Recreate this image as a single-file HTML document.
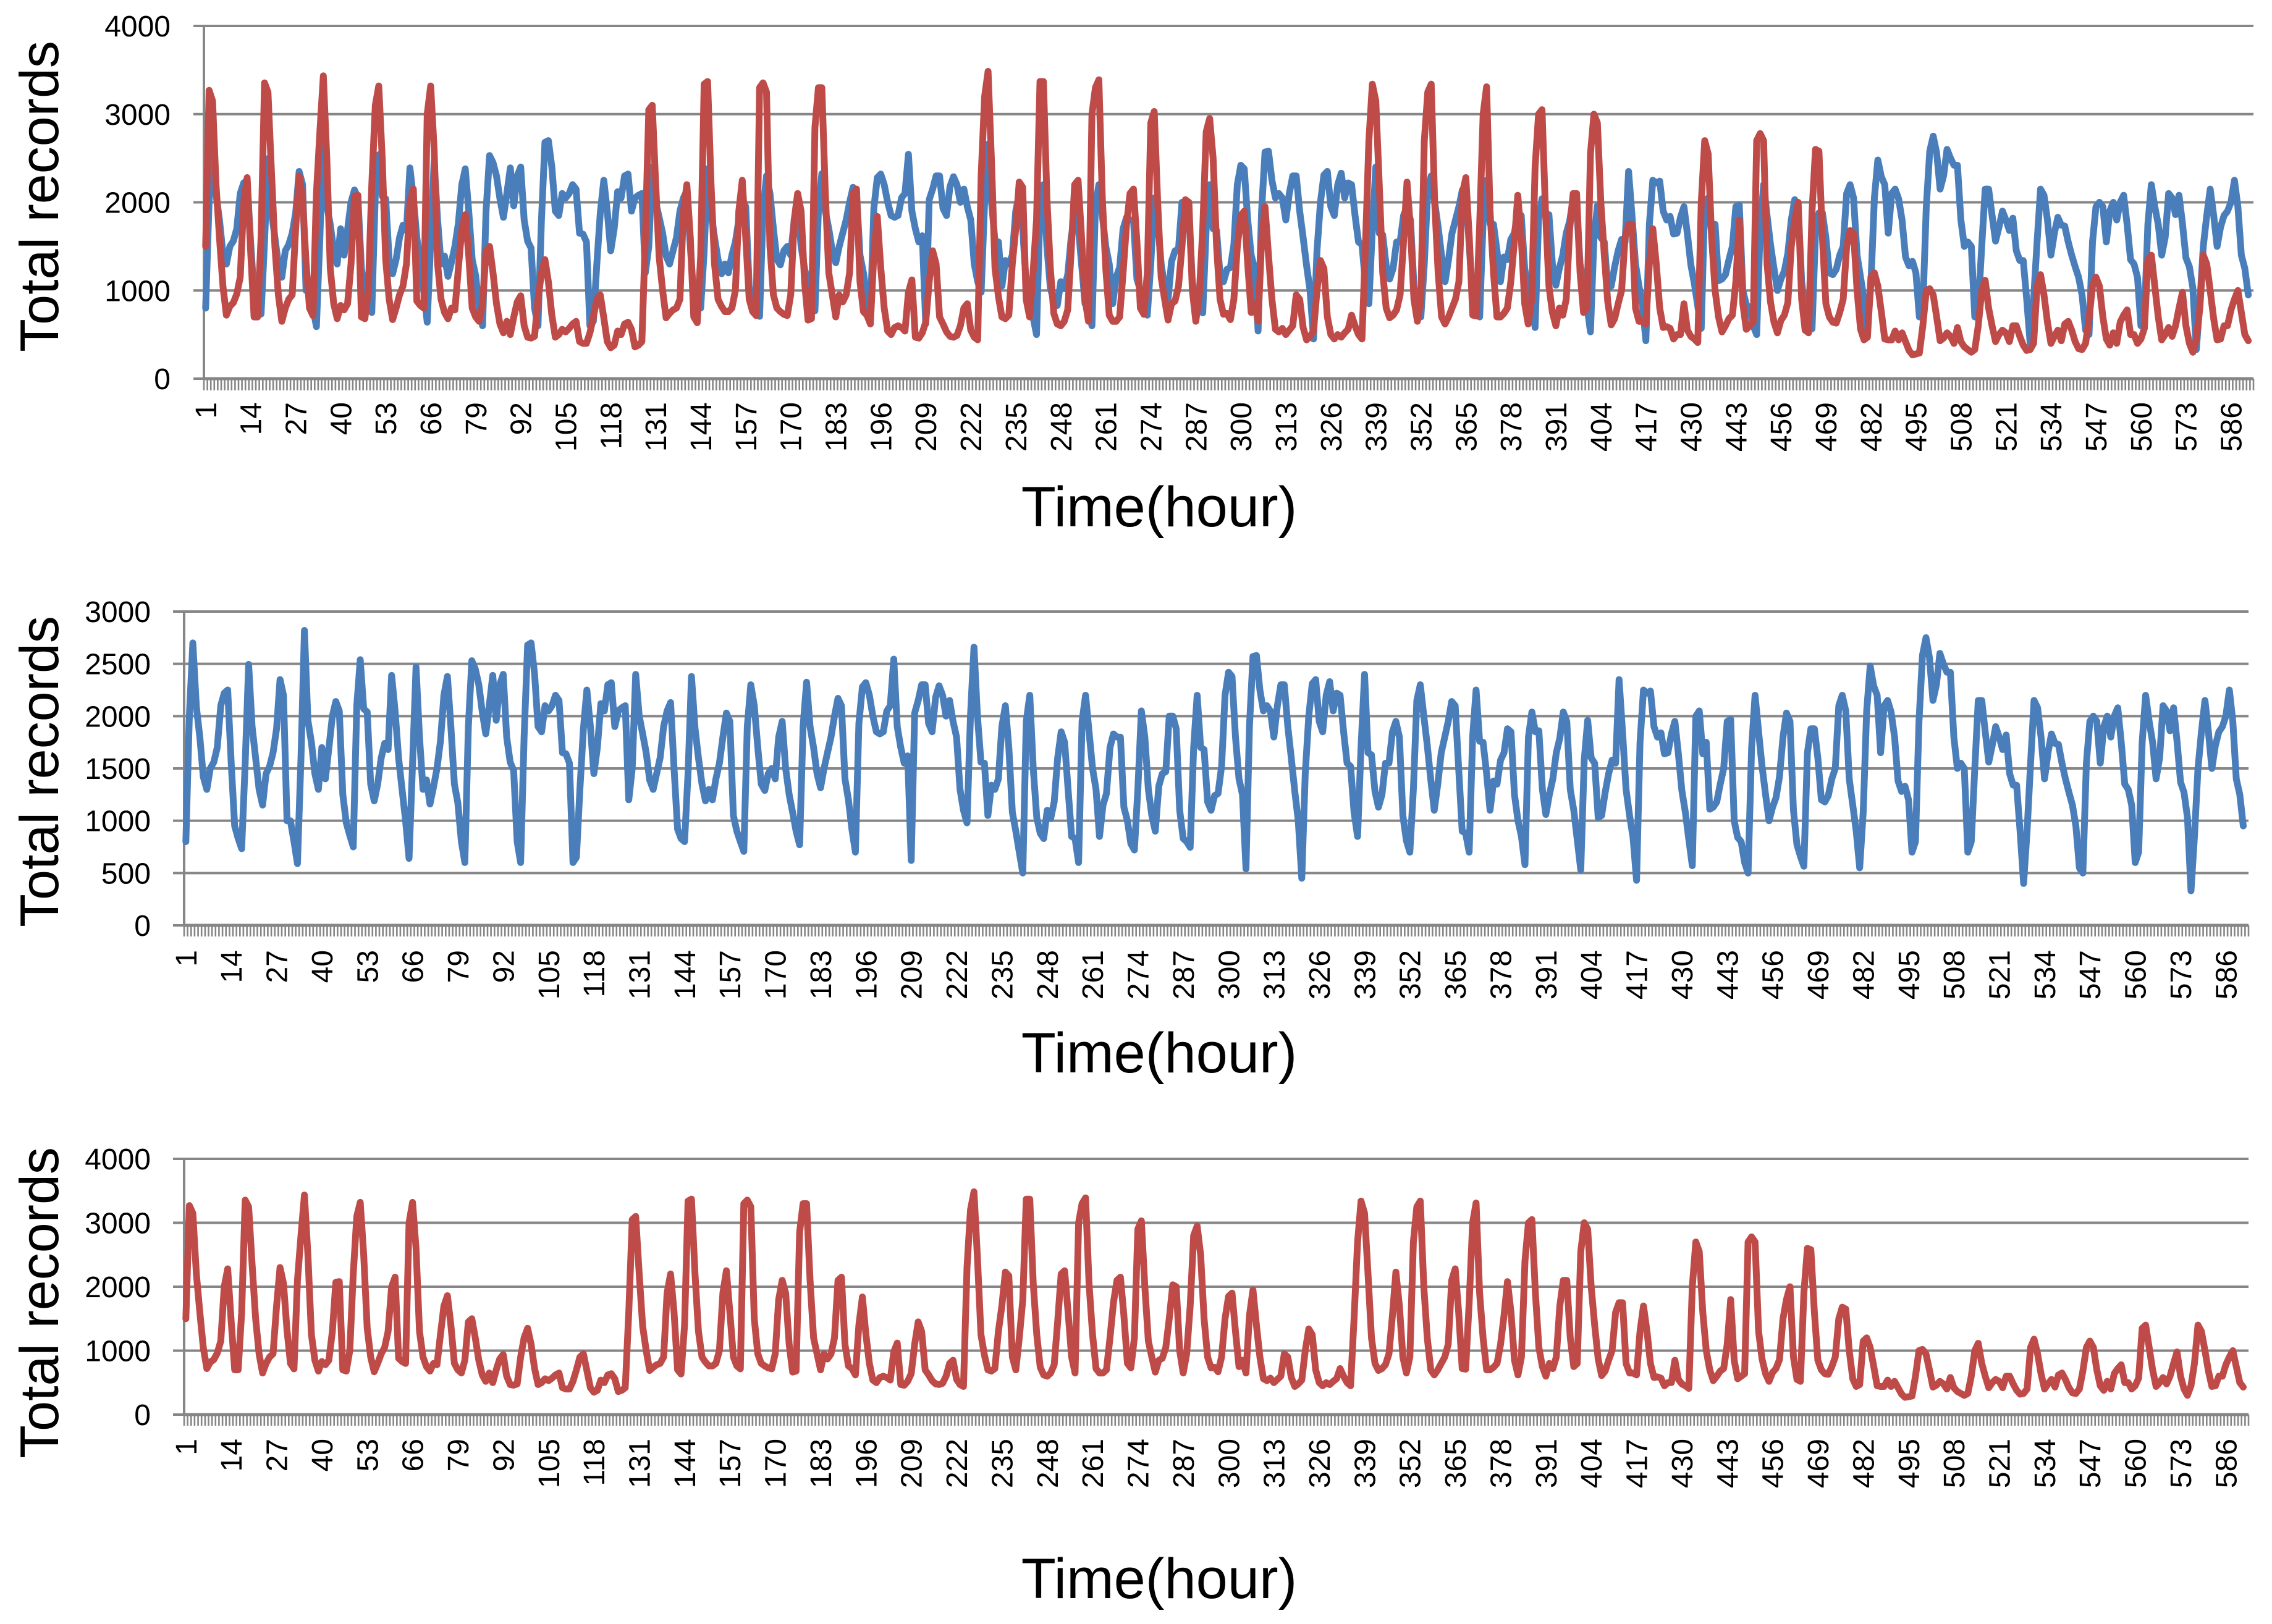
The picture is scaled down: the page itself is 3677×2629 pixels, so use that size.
<!DOCTYPE html>
<html><head><meta charset="utf-8"><style>
html,body{margin:0;padding:0;background:#fff;}
svg{display:block;font-family:"Liberation Sans",sans-serif;}
</style></head>
<body>
<svg id="fig" width="3677" height="2629" viewBox="0 0 3677 2629" xmlns="http://www.w3.org/2000/svg"></svg>
<script>
const blueValues=[800,2010,2700,2090,1800,1420,1300,1500,1560,1700,
2100,2220,2250,1550,950,830,733,1550,2495,1900,
1600,1300,1150,1450,1520,1650,1880,2350,2200,1000,
1000,800,590,1600,2820,1960,1750,1450,1300,1700,
1400,1690,2000,2140,2050,1250,980,860,750,2100,
2540,2070,2040,1350,1190,1350,1600,1740,1680,2390,
2050,1600,1300,1000,640,1550,2470,1800,1300,1390,
1160,1320,1500,1760,2200,2380,1900,1350,1170,800,
600,1900,2530,2450,2300,2040,1830,2100,2390,1960,
2300,2400,1800,1560,1480,800,600,1800,2680,2700,
2400,1900,1850,2100,2050,2100,2200,2150,1650,1640,
1550,600,650,1300,1880,2250,1900,1450,1700,2120,
2050,2300,2320,1900,2050,2080,2100,1200,1500,2400,
2000,1830,1650,1390,1300,1450,1600,1900,2050,2130,
1500,920,830,800,1450,2380,1885,1600,1350,1190,
1300,1200,1400,1550,1800,2030,1950,1050,900,800,
707,1900,2300,2100,1700,1350,1290,1450,1500,1400,
1800,1950,1500,1250,1080,900,770,1900,2325,1900,
1700,1450,1315,1500,1650,1800,2000,2170,2100,1400,
1200,920,700,1930,2280,2320,2200,2000,1850,1830,
1850,2050,2100,2545,1900,1700,1550,1620,620,2030,
2150,2300,2300,1930,1850,2180,2290,2200,2000,2150,
1950,1800,1300,1100,980,2000,2660,2000,1560,1550,
1050,1340,1300,1400,1900,2100,1700,1080,900,700,
500,1950,2200,1500,1030,880,830,1100,1020,1180,
1600,1850,1750,1300,850,830,600,1950,2200,1850,
1500,1300,850,1150,1260,1700,1830,1800,1800,1130,
1000,780,720,1300,2050,1800,1300,1050,900,1330,
1450,1470,2000,2000,1880,1100,830,800,746,1700,
2200,1700,1680,1180,1100,1240,1260,1520,2200,2420,
2380,1800,1400,1250,540,1900,2570,2580,2250,2050,
2100,2050,1800,2100,2300,2300,1900,1600,1280,1000,
450,1450,2000,2310,2350,1950,1850,2200,2330,2050,
2220,2200,1850,1550,1520,1080,850,1700,2400,1650,
1630,1280,1130,1250,1550,1550,1850,1950,1800,1050,
810,700,1300,2150,2300,2000,1720,1390,1100,1350,
1650,1800,1950,2140,2100,1500,900,880,700,1800,
2250,1760,1750,1450,1100,1380,1350,1580,1650,1880,
1850,1250,1000,850,580,1800,2040,1850,1860,1300,
1060,1250,1400,1650,1790,2040,1950,1300,1100,820,
530,1580,1960,1600,1550,1030,1050,1270,1450,1580,
1550,2350,1840,1300,1050,840,430,1750,2250,2220,
2240,1900,1800,1840,1640,1650,1830,1950,1640,1290,
1080,820,570,2000,2050,1640,1750,1110,1130,1180,
1350,1500,1950,1970,1000,840,800,600,500,1700,
2200,1850,1520,1250,1000,1130,1220,1420,1800,2030,
1950,1100,770,660,565,1650,1880,1880,1600,1200,
1180,1240,1400,1500,2100,2200,2050,1400,1150,900,
550,1080,2050,2480,2290,2200,1650,2100,2150,2040,
1800,1380,1280,1330,1200,700,800,1950,2580,2750,
2560,2150,2300,2600,2500,2420,2420,1800,1500,1550,
1500,700,800,1500,2150,2150,1850,1560,1720,1900,
1800,1680,1820,1450,1340,1340,900,400,900,1550,
2150,2080,1800,1400,1650,1830,1740,1730,1550,1400,
1270,1150,950,550,500,1550,1950,2000,1950,1550,
1900,2000,1800,2000,2080,1750,1350,1300,1150,600,
700,1750,2200,1950,1750,1400,1600,2100,2050,1860,
2080,1760,1370,1270,1030,330,850,1500,1850,2150,
1850,1500,1720,1850,1900,2000,2250,1950,1400,1250,950];

const redValues=[1500,3270,3150,2200,1600,1050,720,820,860,960,
1150,2000,2280,1450,700,700,1600,3355,3250,2350,
1500,950,650,800,900,950,1700,2300,2050,1320,
800,715,2100,2800,3435,2500,1250,850,680,830,
780,850,1300,2070,2080,700,680,1000,2200,3100,
3320,2500,1350,900,670,800,950,1050,1300,2000,
2150,880,830,800,3000,3320,2600,1300,900,750,
680,800,780,1250,1700,1860,1400,800,700,650,
850,1450,1500,1200,850,620,520,650,500,700,
870,940,600,470,460,480,900,1200,1350,1100,
720,470,500,560,530,570,620,650,420,400,
400,520,700,900,950,690,420,350,380,540,
500,620,640,560,360,380,420,1600,3050,3100,
2200,1380,1000,690,740,780,800,900,1900,2200,
1600,700,635,1400,3340,3370,2200,1300,900,820,
760,760,800,1000,1900,2250,1600,900,760,715,
3300,3355,3250,1500,950,800,760,730,715,950,
1800,2100,1900,1100,665,680,2850,3300,3300,2100,
1200,950,700,950,870,950,1200,2100,2150,1100,
760,720,620,1400,1840,1260,800,540,500,580,
600,580,540,980,1120,470,460,520,640,1100,
1450,1300,700,620,530,480,470,490,600,800,
850,550,470,440,2300,3200,3485,2450,1250,930,
700,680,720,1300,1700,2230,2170,900,700,1200,
1800,3370,3370,2050,1250,740,620,600,650,780,
1450,2200,2250,1600,900,650,3000,3300,3390,2050,
1250,720,650,650,700,1200,1750,2100,2150,1550,
800,730,1200,2900,3030,2000,1150,900,665,850,
880,1050,1500,2030,2000,1000,650,950,1700,2800,
2950,2500,1500,900,730,740,670,900,1500,1850,
1900,1300,750,850,650,1550,1950,1400,900,560,
530,570,500,550,600,950,900,580,440,480,
540,1000,1340,1250,700,500,450,500,470,520,
560,720,600,500,450,1500,2700,3340,3150,2200,
1200,800,690,720,780,950,1550,2230,1700,900,
650,900,2700,3250,3340,2000,1200,700,620,700,
800,900,1100,2100,2280,1600,720,710,1750,3000,
3310,1900,1200,700,700,740,800,1100,1550,2080,
1600,850,620,900,2400,3000,3050,1900,1050,750,
600,800,720,900,1700,2100,2100,1200,750,800,
2550,3000,2900,2000,1400,870,610,680,850,1000,
1600,1750,1750,800,650,650,620,1300,1700,1300,
800,580,590,570,450,500,500,850,550,480,
450,410,2000,2700,2550,1600,1000,700,530,600,
680,720,1100,1800,850,560,600,640,2700,2780,
2700,1300,870,640,520,660,720,860,1500,1800,
2000,900,550,520,1900,2600,2580,1600,850,700,
640,630,750,900,1500,1680,1650,1000,560,440,
470,1150,1200,1050,760,450,440,440,540,440,
520,420,320,270,280,290,600,1000,1020,950,
700,430,460,520,480,400,580,420,360,330,
300,330,600,1000,1115,800,600,420,500,550,
520,420,600,600,480,380,320,330,400,1050,
1180,950,640,400,480,550,430,620,650,550,
420,340,330,400,680,1050,1150,1050,700,450,
380,520,400,640,720,780,500,500,400,450,
570,1350,1400,1050,700,440,500,580,480,600,
800,980,600,400,300,450,800,1400,1300,1000,
680,440,450,600,600,780,900,1000,750,500,430];

const topYTicks=[0,1000,2000,3000,4000];
const midYTicks=[0,500,1000,1500,2000,2500,3000];
const botYTicks=[0,1000,2000,3000,4000];
const xTickLabels=[1,14,27,40,53,66,79,92,105,118,131,144,157,170,183,196,209,222,235,248,261,274,287,300,313,326,339,352,365,378,391,404,417,430,443,456,469,482,495,508,521,534,547,560,573,586];
const numHours=592;

const NS="http://www.w3.org/2000/svg";
const svg=document.getElementById('fig');
const GRAY="#868686";
function mk(tag,attrs,parent){const e=document.createElementNS(NS,tag);for(const k in attrs)e.setAttribute(k,attrs[k]);(parent||svg).appendChild(e);return e;}

function drawChart(cfg){
  const g=mk('g',{});
  
  
  const band=(cfg.right-cfg.left)/numHours;
  const yMax=cfg.yTicks[cfg.yTicks.length-1];
  const yS=v=>cfg.bottom-(v/yMax)*(cfg.bottom-cfg.top);
  const xS=i=>cfg.left+(i+0.5)*band;
  // gridlines + y labels
  cfg.yTicks.forEach(t=>{
    const y=yS(t);
    const gl=mk('line',{x1:cfg.gridStart,x2:cfg.right,y1:y,y2:y,stroke:GRAY,'stroke-width':4},g);
    
    
    const tx=mk('text',{x:cfg.labelRight,y:y+17,'text-anchor':'end','font-size':48,fill:'#000'},g);
    tx.textContent=t;
    
    
  });
  // y axis
  const ya=mk('line',{x1:cfg.left,x2:cfg.left,y1:cfg.top,y2:cfg.bottom+2,stroke:GRAY,'stroke-width':4},g);
  
  
  // tick marks
  let d='';
  for(let k=0;k<=numHours;k++){const x=(cfg.left+k*band).toFixed(1);d+='M'+x+' '+cfg.bottom+'V'+(cfg.bottom+cfg.tickLen);}
  const tk=mk('path',{d:d,stroke:GRAY,'stroke-width':2.6,fill:'none'},g);
  
  
  const xa=mk('line',{x1:cfg.left,x2:cfg.right,y1:cfg.bottom,y2:cfg.bottom,stroke:GRAY,'stroke-width':5},g);
  
  
  // x labels
  xTickLabels.forEach(h=>{
    const x=xS(h-1)+17;
    const t=mk('text',{transform:'translate('+x.toFixed(1)+','+cfg.xLabelTop+') rotate(-90)','text-anchor':'end','font-size':48,fill:'#000'},g);
    t.textContent=h;
    
    
  });
  // series
  cfg.series.forEach(s=>{
    const pts=s.values.map((v,i)=>xS(i).toFixed(1)+','+yS(v).toFixed(1)).join(' ');
    const pl=mk('polyline',{points:pts,fill:'none',stroke:s.color,'stroke-width':11,'stroke-linejoin':'round','stroke-linecap':'round'},g);
    
    
  });
  // titles
  const yt=mk('text',{transform:'translate('+cfg.yTitleX+','+cfg.yTitleY+') rotate(-90)','text-anchor':'middle','font-size':88,fill:'#000'},g);
  yt.textContent='Total records';
  
  
  const xt=mk('text',{x:1876,y:cfg.xTitleY,'text-anchor':'middle','font-size':92,fill:'#000'},g);
  xt.textContent='Time(hour)';
  
  
}

drawChart({name:'combined-chart',left:330,right:3647,top:42,bottom:613,gridStart:313,labelRight:276,tickLen:19,xLabelTop:651,yTicks:topYTicks,yTitleX:94,yTitleY:318,xTitleY:852,
  series:[{name:'blue-series-line',values:blueValues,color:'#4A7EBB'},{name:'red-series-line',values:redValues,color:'#BE4B48'}]});
drawChart({name:'blue-chart',left:298,right:3639,top:990,bottom:1498,gridStart:280,labelRight:244,tickLen:18,xLabelTop:1538,yTicks:midYTicks,yTitleX:94,yTitleY:1249,xTitleY:1736,
  series:[{name:'blue-series-line',values:blueValues,color:'#4A7EBB'}]});
drawChart({name:'red-chart',left:298,right:3639,top:1876,bottom:2290,gridStart:280,labelRight:244,tickLen:18,xLabelTop:2329,yTicks:botYTicks,yTitleX:94,yTitleY:2109,xTitleY:2587,
  series:[{name:'red-series-line',values:redValues,color:'#BE4B48'}]});
</script>
</body></html>
